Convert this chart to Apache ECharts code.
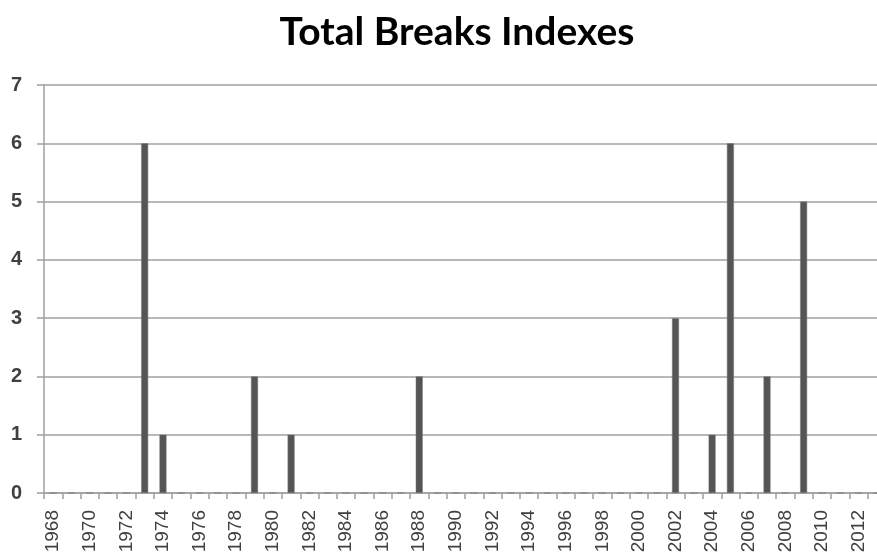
<!DOCTYPE html>
<html><head><meta charset="utf-8">
<script src="https://cdn.jsdelivr.net/npm/echarts@6/dist/echarts.min.js"></script>
<style>html,body{margin:0;padding:0;background:#fff}#c{width:877px;height:555px}</style>
</head><body><div id="c"></div>
<script>
const titleText = "Total Breaks Indexes";
const years = [];
for (let y = 1968; y <= 2013; y++) years.push(String(y));
const breakYears = ["1973","1974","1979","1981","1988","2002","2004","2005","2007","2009"];
const breakCounts = [6, 1, 2, 1, 2, 3, 1, 6, 2, 5];
const yTicks = [0,1,2,3,4,5,6,7];

const values = years.map(y => { const i = breakYears.indexOf(y); return i >= 0 ? breakCounts[i] : 0; });

const chart = echarts.init(document.getElementById('c'), null, {renderer:'canvas'});
chart.setOption({
  animation:false,
  backgroundColor:'#fff',
  title:{text:titleText,left:452,textAlign:'center',top:8,
    textStyle:{fontFamily:'Lato',fontWeight:'bold',fontSize:39,color:'#000'}},
  grid:{left:44,width:842,top:85,height:408,containLabel:false,outerBoundsMode:'none'},
  xAxis:{type:'category',data:years,boundaryGap:true,
    axisLine:{lineStyle:{color:'#a0a0a0',width:1.5}},
    axisTick:{show:true,interval:0,length:6,lineStyle:{color:'#a0a0a0',width:1.5}},
    axisLabel:{interval:1,rotate:90,margin:17,fontFamily:'Liberation Sans',fontSize:19,color:'#404040'},
    splitLine:{show:false}},
  yAxis:{type:'value',min:0,max:7,interval:1,
    axisLine:{show:true,lineStyle:{color:'#a0a0a0',width:1.5}},
    axisTick:{show:true,length:7,lineStyle:{color:'#a0a0a0',width:1.5}},
    axisLabel:{margin:22,fontFamily:'Liberation Sans',fontWeight:'bold',fontSize:20,color:'#404040',
      formatter:v=>yTicks.includes(v)?String(v):''},
    splitLine:{lineStyle:{color:'#a0a0a0',width:1.5}}},
  series:[{type:'bar',data:values,barWidth:7,
    itemStyle:{color:'#555555',borderColor:'#7a7a7a',borderWidth:0.5}}]
});
</script></body></html>
